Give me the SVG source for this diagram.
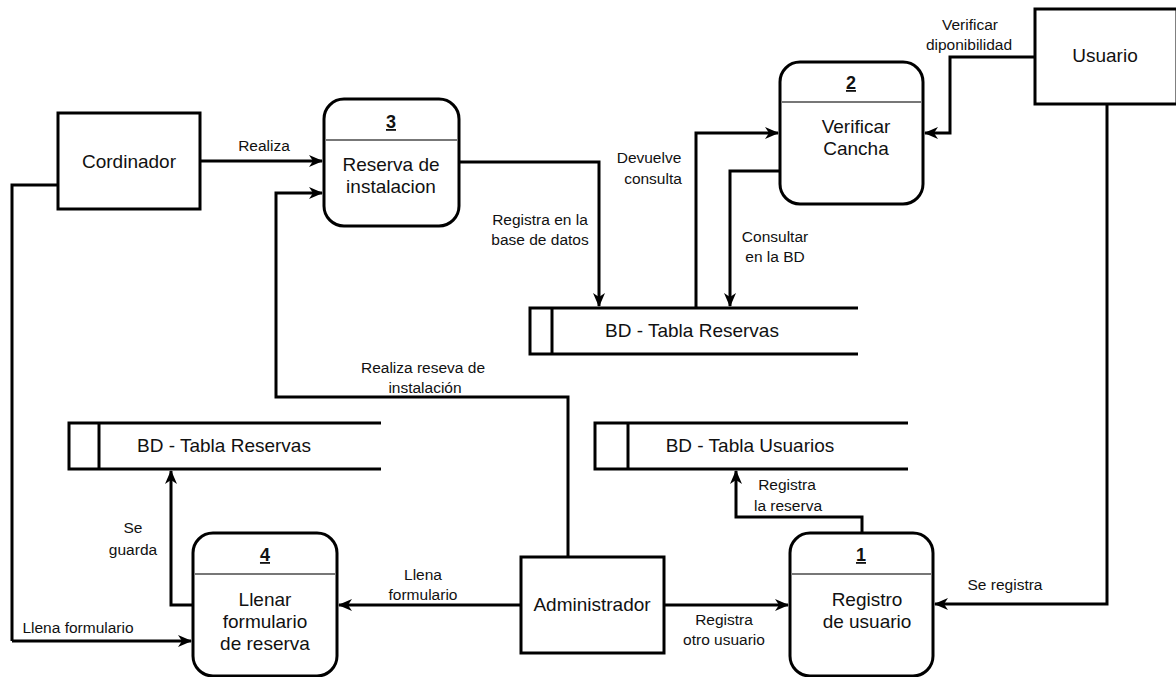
<svg xmlns="http://www.w3.org/2000/svg" width="1176" height="677" viewBox="0 0 1176 677">
  <style>
    .box { fill: #fff; stroke: #000; stroke-width: 3; }
    .sep { stroke: #777; stroke-width: 2; }
    .store { fill: none; stroke: #000; stroke-width: 3; }
    .flow { fill: none; stroke: #000; stroke-width: 3; marker-end: url(#arrow); }
    .line { fill: none; stroke: #000; stroke-width: 3; }
    .node { font-family: "Liberation Sans", Arial, sans-serif; font-size: 19px; fill: #111; text-anchor: middle; }
    .num { font-family: "Liberation Sans", Arial, sans-serif; font-size: 18px; font-weight: bold; fill: #111; text-anchor: middle; text-decoration: underline; }
    .lbl { font-family: "Liberation Sans", Arial, sans-serif; font-size: 15.5px; fill: #111; text-anchor: middle; }
  </style>
  <defs>
    <marker id="arrow" viewBox="0 0 14 12" refX="13" refY="6" markerWidth="14" markerHeight="12" markerUnits="userSpaceOnUse" orient="auto">
      <path d="M0,0 L14,6 L0,12 L4,6 Z" fill="#000"/>
    </marker>
  </defs>
  <rect width="1176" height="677" fill="#fff"/>

  <!-- data flows -->
  <g id="connectors">
    <path class="flow" d="M200,161 H322"/>
    <path class="line" d="M58,185 H12 V641"/>
    <path class="flow" d="M12,641 H191"/>
    <path class="flow" d="M568,557 V397 H276 V193 H322"/>
    <path class="flow" d="M459,162 H599 V306"/>
    <path class="flow" d="M696,308 V133 H778"/>
    <path class="flow" d="M780,171 H730 V306"/>
    <path class="flow" d="M1035,57 H950 V133 H925"/>
    <path class="flow" d="M1107,104 V604 H935"/>
    <path class="flow" d="M193,605 H171 V471"/>
    <path class="flow" d="M521,605 H339"/>
    <path class="flow" d="M664,605 H788"/>
    <path class="flow" d="M862,533 V517 H736 V471"/>

    <text class="lbl" x="264" y="151">Realiza</text>
    <text class="lbl" x="423" y="373">Realiza reseva de</text>
    <text class="lbl" x="425" y="393">instalación</text>
    <text class="lbl" x="540" y="225">Registra en la</text>
    <text class="lbl" x="540" y="245">base de datos</text>
    <text class="lbl" x="649" y="163">Devuelve</text>
    <text class="lbl" x="653" y="184">consulta</text>
    <text class="lbl" x="775" y="242">Consultar</text>
    <text class="lbl" x="775" y="262">en la BD</text>
    <text class="lbl" x="970" y="30">Verificar</text>
    <text class="lbl" x="969" y="50">diponibilidad</text>
    <text class="lbl" x="1005" y="590">Se registra</text>
    <text class="lbl" x="787" y="490">Registra</text>
    <text class="lbl" x="788" y="511">la reserva</text>
    <text class="lbl" x="724" y="625">Registra</text>
    <text class="lbl" x="724" y="645">otro usuario</text>
    <text class="lbl" x="423" y="580">Llena</text>
    <text class="lbl" x="423" y="600">formulario</text>
    <text class="lbl" x="133" y="533">Se</text>
    <text class="lbl" x="133" y="555">guarda</text>
    <text class="lbl" x="78" y="633">Llena formulario</text>
  </g>

  <!-- external entities -->
  <g id="cordinador">
    <rect class="box" x="58" y="113" width="142" height="96"/>
    <text class="node" x="129" y="168">Cordinador</text>
  </g>
  <g id="usuario">
    <rect class="box" x="1035" y="9" width="142" height="95"/>
    <text class="node" x="1105" y="62">Usuario</text>
  </g>
  <g id="administrador">
    <rect class="box" x="521" y="557" width="143" height="96"/>
    <text class="node" x="592" y="611">Administrador</text>
  </g>

  <!-- processes -->
  <g id="proceso-3">
    <rect class="box" x="324" y="99" width="135" height="127" rx="20" ry="20"/>
    <line class="sep" x1="326" y1="140" x2="457" y2="140"/>
    <text class="num" x="391" y="128">3</text>
    <text class="node" x="391" y="171">Reserva de</text>
    <text class="node" x="391" y="193">instalacion</text>
  </g>
  <g id="proceso-2">
    <rect class="box" x="780" y="62" width="143" height="142" rx="20" ry="20"/>
    <line class="sep" x1="782" y1="102" x2="921" y2="102"/>
    <text class="num" x="851" y="89">2</text>
    <text class="node" x="856" y="133">Verificar</text>
    <text class="node" x="856" y="155">Cancha</text>
  </g>
  <g id="proceso-4">
    <rect class="box" x="193" y="533" width="144" height="143" rx="20" ry="20"/>
    <line class="sep" x1="195" y1="574" x2="335" y2="574"/>
    <text class="num" x="265" y="561">4</text>
    <text class="node" x="265" y="606">Llenar</text>
    <text class="node" x="265" y="628">formulario</text>
    <text class="node" x="265" y="650">de reserva</text>
  </g>
  <g id="proceso-1">
    <rect class="box" x="790" y="533" width="143" height="143" rx="20" ry="20"/>
    <line class="sep" x1="792" y1="574" x2="931" y2="574"/>
    <text class="num" x="861" y="561">1</text>
    <text class="node" x="867" y="606">Registro</text>
    <text class="node" x="867" y="628">de usuario</text>
  </g>

  <!-- data stores -->
  <g id="bd-reservas-1">
    <path class="store" d="M858,308 H530 V354 H858"/>
    <line class="store" x1="552" y1="308" x2="552" y2="354"/>
    <text class="node" x="692" y="337">BD - Tabla Reservas</text>
  </g>
  <g id="bd-reservas-2">
    <path class="store" d="M381,423 H69 V469 H381"/>
    <line class="store" x1="99" y1="423" x2="99" y2="469"/>
    <text class="node" x="224" y="452">BD - Tabla Reservas</text>
  </g>
  <g id="bd-usuarios">
    <path class="store" d="M908,423 H595 V469 H908"/>
    <line class="store" x1="628" y1="423" x2="628" y2="469"/>
    <text class="node" x="750" y="452">BD - Tabla Usuarios</text>
  </g>
</svg>
